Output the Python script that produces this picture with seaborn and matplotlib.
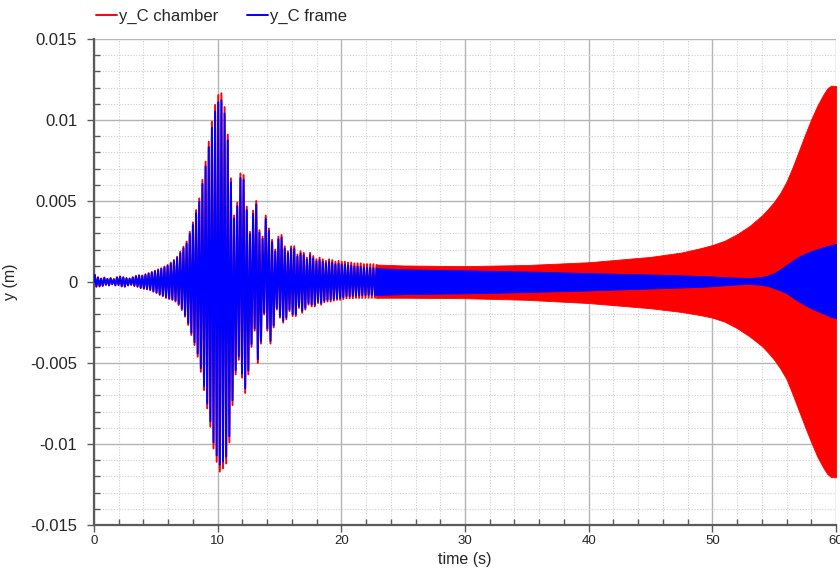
import numpy as np
import pandas as pd
import matplotlib
matplotlib.use("Agg")
import matplotlib.pyplot as plt
from matplotlib.ticker import MultipleLocator, FixedLocator
import seaborn as sns

# ---------------------------------------------------------------------------
# Data (displacements in mm)
# Resolved oscillation: one peak and one trough per cycle, cycle length below
cycle_s = 0.256

chamber_top = [0.45, 0.30, 0.22, 0.28, 0.20, 0.25, 0.18, 0.30, 0.35, 0.30,
               0.25, 0.22, 0.30, 0.38, 0.42, 0.40, 0.48, 0.55, 0.62, 0.70,
               0.78, 0.85, 0.95, 1.05, 1.20, 1.36, 1.56, 1.87, 2.18, 2.49,
               3.10, 3.68, 4.44, 5.16, 6.30, 7.43, 8.66, 9.90, 10.93, 11.54,
               11.65, 10.80, 9.10, 6.40, 4.10, 4.90, 6.70, 6.60, 4.65, 3.10,
               4.40, 5.00, 3.20, 2.80, 4.10, 3.30, 2.60, 2.00, 2.80, 2.90,
               2.20, 1.90, 2.20, 2.20, 1.70, 1.90, 1.80, 1.50, 1.80, 1.60,
               1.40, 1.50, 1.40, 1.30, 1.40, 1.35, 1.25, 1.30, 1.25, 1.25,
               1.20, 1.20, 1.15, 1.15, 1.15, 1.10, 1.10, 1.10, 1.10, 1.05]
chamber_bottom = [-0.30, -0.28, -0.25, -0.18, -0.22, -0.15, -0.22, -0.20, -0.28, -0.30,
                  -0.22, -0.18, -0.25, -0.30, -0.38, -0.42, -0.45, -0.50, -0.60, -0.68,
                  -0.80, -0.88, -0.98, -1.05, -1.11, -1.21, -1.42, -1.73, -2.14, -2.65,
                  -3.27, -3.89, -4.61, -5.54, -6.67, -7.80, -8.93, -10.27, -11.10, -11.70,
                  -11.50, -11.20, -9.90, -7.60, -5.70, -4.80, -5.90, -6.85, -5.70, -4.00,
                  -3.00, -5.00, -3.80, -2.00, -3.00, -3.80, -2.80, -1.70, -2.20, -2.50,
                  -2.30, -1.80, -2.10, -2.10, -1.60, -1.90, -1.70, -1.40, -1.50, -1.50,
                  -1.30, -1.40, -1.25, -1.20, -1.20, -1.15, -1.10, -1.10, -1.05, -1.00,
                  -1.00, -1.00, -0.98, -0.98, -0.98, -0.97, -0.97, -0.97, -0.97, -0.97]
frame_top = [0.42, 0.27, 0.20, 0.25, 0.18, 0.22, 0.16, 0.27, 0.32, 0.27,
             0.22, 0.20, 0.27, 0.35, 0.39, 0.37, 0.45, 0.51, 0.58, 0.66,
             0.73, 0.80, 0.90, 0.99, 1.13, 1.29, 1.48, 1.78, 2.08, 2.38,
             2.96, 3.52, 4.25, 4.95, 6.05, 7.14, 8.32, 9.52, 10.52, 11.10,
             11.22, 10.40, 8.75, 6.15, 3.92, 4.68, 6.42, 6.32, 4.44, 2.95,
             4.20, 4.78, 3.04, 2.65, 3.90, 3.13, 2.46, 1.88, 2.64, 2.74,
             2.06, 1.77, 2.05, 2.05, 1.57, 1.75, 1.65, 1.37, 1.64, 1.45,
             1.26, 1.35, 1.25, 1.15, 1.24, 1.19, 1.09, 1.13, 1.08, 1.07,
             1.02, 1.01, 0.96, 0.95, 0.94, 0.89, 0.88, 0.87, 0.86, 0.85]
frame_bottom = [-0.27, -0.25, -0.22, -0.16, -0.19, -0.13, -0.19, -0.17, -0.25, -0.27,
                -0.19, -0.16, -0.22, -0.27, -0.35, -0.39, -0.42, -0.46, -0.56, -0.64,
                -0.75, -0.83, -0.92, -0.99, -1.05, -1.14, -1.35, -1.64, -2.04, -2.53,
                -3.13, -3.72, -4.42, -5.32, -6.41, -7.50, -8.60, -9.90, -10.70, -11.28,
                -11.08, -10.78, -9.52, -7.30, -5.46, -4.59, -5.65, -6.57, -5.46, -3.82,
                -2.86, -4.78, -3.63, -1.90, -2.86, -3.63, -2.67, -1.61, -2.09, -2.38,
                -2.18, -1.70, -1.98, -1.98, -1.50, -1.78, -1.59, -1.30, -1.39, -1.39,
                -1.20, -1.29, -1.15, -1.10, -1.09, -1.04, -0.99, -0.98, -0.93, -0.88,
                -0.87, -0.86, -0.84, -0.83, -0.82, -0.81, -0.80, -0.80, -0.80, -0.80]

# Unresolved (dense) oscillation: envelope of the band
band_t = [22.8, 25, 30, 35, 40, 45, 47.5, 49, 50, 51, 52, 53, 54, 54.5, 55, 55.5,
          56, 56.5, 57, 57.5, 58, 58.5, 59, 59.3, 59.6, 60]
chamber_hi = [1.08, 1.02, 0.98, 1.05, 1.22, 1.55, 1.82, 2.08, 2.28, 2.55, 2.95, 3.45,
              4.10, 4.50, 4.95, 5.50, 6.20, 7.10, 8.10, 9.10, 10.05, 10.90, 11.60,
              11.95, 12.12, 12.10]
chamber_lo = [-0.97, -0.97, -1.00, -1.10, -1.30, -1.62, -1.85, -2.04, -2.20, -2.45, -2.85,
              -3.35, -3.95, -4.35, -4.80, -5.35, -6.00, -6.95, -7.95, -8.95, -9.90,
              -10.80, -11.50, -11.85, -12.05, -12.05]
frame_hi = [0.85, 0.78, 0.72, 0.65, 0.55, 0.46, 0.41, 0.37, 0.34, 0.30, 0.27, 0.25,
            0.31, 0.40, 0.55, 0.78, 1.05, 1.32, 1.56, 1.75, 1.90, 2.03, 2.15, 2.22,
            2.28, 2.35]
frame_lo = [-0.80, -0.75, -0.70, -0.62, -0.52, -0.40, -0.34, -0.30, -0.26, -0.20, -0.15,
            -0.12, -0.17, -0.25, -0.38, -0.52, -0.70, -0.95, -1.20, -1.42, -1.62,
            -1.80, -1.95, -2.05, -2.15, -2.24]

series_names = ["y_C chamber", "y_C frame"]
series_colors = ["#ff0000", "#0000ff"]
x_ticks = [0, 10, 20, 30, 40, 50, 60]
y_ticks = [-0.015, -0.01, -0.005, 0, 0.005, 0.01, 0.015]
y_ticklabels = ["-0.015", "-0.01", "-0.005", "0", "0.005", "0.01", "0.015"]


def zigzag(top, bottom):
    """Interleave peaks and troughs on the cycle time grid (values in m)."""
    n = len(top)
    k = np.arange(n)
    t = np.empty(2 * n + 1)
    y = np.empty(2 * n + 1)
    t[0], y[0] = 0.0, 0.0
    t[1::2] = k * cycle_s + cycle_s / 4
    t[2::2] = k * cycle_s + 3 * cycle_s / 4
    y[1::2] = np.asarray(top) * 1e-3
    y[2::2] = np.asarray(bottom) * 1e-3
    return t, y


# ---------------------------------------------------------------------------
sns.set_theme(style="white")
plt.rcParams["font.family"] = ["Liberation Sans", "DejaVu Sans"]

fig = plt.figure(figsize=(8.4, 5.71), dpi=100)
ax = fig.add_axes([94 / 840, 1 - 525 / 571, (836 - 94) / 840, (525 - 39) / 571])

frames = []
for name, top, bottom in [(series_names[0], chamber_top, chamber_bottom),
                          (series_names[1], frame_top, frame_bottom)]:
    t, y = zigzag(top, bottom)
    frames.append(pd.DataFrame({"time": t, "y": y, "signal": name}))
df = pd.concat(frames, ignore_index=True)

for name, color, hi, lo in [(series_names[0], series_colors[0], chamber_hi, chamber_lo),
                            (series_names[1], series_colors[1], frame_hi, frame_lo)]:
    sub = df[df["signal"] == name]
    sns.lineplot(data=sub, x="time", y="y", color=color, lw=1.4, sort=False,
                 estimator=None, ax=ax, label=name, zorder=3)
    ax.fill_between(band_t, np.asarray(lo) * 1e-3, np.asarray(hi) * 1e-3,
                    color=color, lw=0.6, edgecolor=color, zorder=3)

ax.set_xlim(0, 60)
ax.set_ylim(-0.015, 0.015)

ax.xaxis.set_major_locator(FixedLocator(x_ticks))
ax.xaxis.set_minor_locator(MultipleLocator(2))
ax.set_yticks(y_ticks)
ax.set_yticklabels(y_ticklabels)
ax.yaxis.set_minor_locator(MultipleLocator(0.001))

ax.grid(which="major", color="#b4b4b4", lw=1.0, ls="-", zorder=0)
ax.grid(which="minor", color="#cfcfcf", lw=0.8, ls=(0, (1, 1.5)), zorder=0)
ax.set_axisbelow(True)

for side in ["top", "right"]:
    ax.spines[side].set_visible(False)
for side in ["left", "bottom"]:
    ax.spines[side].set_color("#5a5a5a")
    ax.spines[side].set_linewidth(1.6)

ax.tick_params(axis="both", which="major", direction="out", length=5, width=1,
               color="#5a5a5a")
ax.tick_params(axis="both", which="minor", direction="in", length=4, width=1,
               color="#5a5a5a")
ax.tick_params(axis="y", which="major", labelsize=12, pad=7)
ax.tick_params(axis="x", which="major", labelsize=9.5, pad=2)
ax.tick_params(axis="both", which="both", bottom=True, left=True)

ax.set_xlabel("time (s)", fontsize=11.5, labelpad=4)
ax.set_ylabel("y (m)", fontsize=11.5)
ax.yaxis.set_label_coords(-0.102, 0.5)

handles, labels = ax.get_legend_handles_labels()
ax.legend(handles[:2], labels[:2], loc="lower left", bbox_to_anchor=(-0.002, 1.025),
          ncol=2, frameon=False, fontsize=12, handlelength=1.25, handletextpad=0.15,
          columnspacing=1.7, borderaxespad=0.0, borderpad=0.2)

fig.savefig("out.png", dpi=100)
